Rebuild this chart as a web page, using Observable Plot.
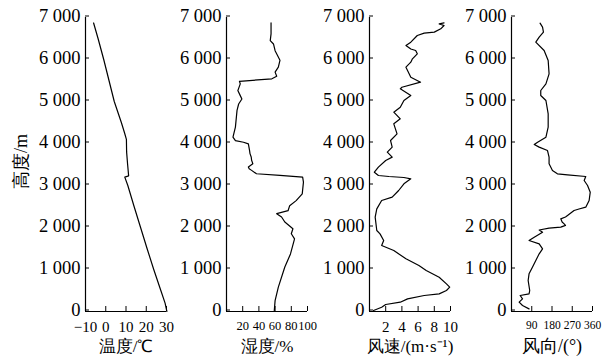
<!DOCTYPE html>
<html>
<head>
<meta charset="utf-8">
<script src="https://cdn.jsdelivr.net/npm/d3@7"></script>
<script src="https://cdn.jsdelivr.net/npm/@observablehq/plot@0.6"></script>
<style>
  html, body { margin: 0; padding: 0; background: #fff; }
  #chart { position: relative; width: 612px; height: 358px; overflow: hidden; }
  #chart svg { position: absolute; top: 0; overflow: visible; }
  #chart svg, #chart svg text { font-family: "Liberation Serif", "Times New Roman", serif !important; }
</style>
</head>
<body>
<div id="chart"></div>
<script>
// ---- Data (altitude in m) ----
const altTicks = [0, 1000, 2000, 3000, 4000, 5000, 6000, 7000];

const tempAltitude = [0, 200, 500, 1000, 1500, 2000, 2500, 3000, 3200, 3230, 3500, 3800, 4100, 4250, 4500, 5000, 5500, 6000, 6500, 6870];
const temperature  = [30.2, 29.3, 27.2, 23.7, 20.4, 17.2, 14.0, 10.9, 9.4, 11.3, 10.8, 10.3, 10.2, 9.3, 7.7, 4.2, 1.6, -1.0, -3.8, -6.0];
const tempTicks = [-10, 0, 10, 20, 30];

const humAltitude = [20, 260, 580, 1060, 1370, 1730, 1850, 1970, 2130, 2250, 2330, 2400, 2520, 2640, 2800, 3080, 3200, 3240, 3280, 3360, 3400, 3440, 3520, 3600, 3680, 3760, 3830, 3990, 4030, 4070, 4150, 4390, 4790, 4940, 5060, 5140, 5260, 5420, 5480, 5540, 5600, 5700, 5820, 5980, 6210, 6370, 6450, 6610, 6870];
const humidity    = [59, 60, 64, 72, 79, 84, 80, 82, 72, 68, 62, 76, 78, 86, 93.5, 95, 94, 66, 37, 31, 28, 27, 32.5, 31, 30.5, 29, 28.5, 27, 21, 11, 8, 11, 13, 15, 19, 17, 14, 17, 16, 56, 62, 60, 64, 66, 60, 58, 54, 55, 55];
const humTicks = [20, 40, 60, 80, 100];

const wsAltitude = [24, 100, 167, 222, 300, 381, 420, 500, 580, 659, 817, 976, 1095, 1254, 1452, 1571, 1690, 1849, 1929, 2246, 2444, 2643, 2722, 2881, 3040, 3159, 3190, 3214, 3238, 3317, 3437, 3595, 3675, 3794, 3913, 4071, 4230, 4349, 4468, 4587, 4746, 4865, 5024, 5143, 5302, 5340, 5460, 5579, 5817, 5937, 6016, 6135, 6214, 6250, 6333, 6413, 6571, 6627, 6651, 6730, 6810, 6849, 6870];
const windSpeed  = [0.5, 1.5, 2.0, 3.8, 4.7, 6.75, 8.6, 9.5, 9.9, 9.5, 8.6, 7.0, 6.1, 4.5, 3.0, 1.5, 1.75, 1.3, 0.9, 0.7, 0.9, 1.5, 2.8, 3.6, 4.25, 5.1, 4.25, 2.4, 1.1, 0.6, 1.1, 2.0, 2.8, 2.2, 2.8, 2.6, 3.4, 3.2, 3.0, 3.8, 3.0, 3.8, 4.25, 5.1, 3.8, 4.0, 6.3, 5.1, 4.5, 5.1, 5.3, 5.9, 5.7, 5.1, 4.5, 5.1, 5.9, 6.75, 8.0, 8.8, 9.2, 8.6, 9.2];
const wsTicks = [2, 4, 6, 8, 10];

const wdAltitude = [63, 143, 222, 300, 381, 420, 500, 738, 897, 1056, 1214, 1373, 1492, 1611, 1690, 1770, 1889, 1940, 1984, 2008, 2050, 2087, 2130, 2206, 2250, 2286, 2340, 2405, 2440, 2484, 2643, 2841, 3000, 3119, 3214, 3254, 3278, 3357, 3516, 3675, 3833, 3913, 3976, 4032, 4151, 4389, 4706, 5024, 5143, 5262, 5420, 5659, 5976, 6214, 6413, 6532, 6651, 6770, 6865];
const windDir    = [78, 49, 34, 49, 38.5, 78, 81, 74, 78, 93, 108, 123, 138, 123, 78, 101, 138, 123, 167, 219, 240, 234, 225, 219, 240, 249, 262, 278, 300, 330, 345, 350, 338, 323, 330, 249, 204, 182, 167, 167, 160, 123, 101, 116, 153, 163, 163, 153, 130, 130, 153, 167, 163, 145, 108, 123, 142, 138, 127];
const wdTicks = [90, 180, 270, 360];

// ---- Formatting ----
const locale = d3.formatLocale({decimal: ".", thousands: " ", grouping: [3], currency: ["", ""], minus: "\u2212"});
const altFormat = locale.format(",");
const numFormat = locale.format("d");

function panel({alts, vals, domain, ticks, tickFont, title, titleFont, left, yTitle}) {
  const data = alts.map((a, i) => ({alt: a, v: vals[i]}));
  const marks = [
    Plot.ruleX([domain[0]], {stroke: "black", strokeWidth: 1.2}),
    Plot.ruleY([0], {stroke: "black", strokeWidth: 1.2}),
    Plot.axisY({ticks: altTicks, tickFormat: altFormat, tickSize: -4, tickPadding: 9, fontSize: 18.5, dy: -1.5, label: null}),
    Plot.axisX({ticks, tickFormat: numFormat, tickSize: -5, tickPadding: 14.5, fontSize: tickFont, label: null}),
    Plot.line(data, {x: "v", y: "alt", stroke: "black", strokeWidth: 1.2}),
    Plot.text([title], {frameAnchor: "bottom", dy: 40.5, fontSize: titleFont})
  ];
  if (yTitle) {
    marks.push(Plot.text([yTitle], {frameAnchor: "left", textAnchor: "middle", rotate: -90, dx: -64, dy: -3, fontSize: 18}));
  }
  const svg = Plot.plot({
    width: 170,
    height: 358,
    marginLeft: 85,
    marginRight: 4,
    marginTop: 17,
    marginBottom: 47,
    style: {color: "black", background: "transparent"},
    x: {domain},
    y: {domain: [0, 7000]},
    marks
  });
  svg.style.left = left + "px";
  return svg;
}

const chart = document.getElementById("chart");
chart.append(
  panel({alts: tempAltitude, vals: temperature, domain: [-10, 30], ticks: tempTicks, tickFont: 15, title: "温度/℃", titleFont: 17, left: 0, yTitle: "高度/m"}),
  panel({alts: humAltitude, vals: humidity, domain: [0, 100], ticks: humTicks, tickFont: 12.5, title: "湿度/%", titleFont: 17, left: 141}),
  panel({alts: wsAltitude, vals: windSpeed, domain: [0, 10], ticks: wsTicks, tickFont: 15, title: "风速/(m·s⁻¹)", titleFont: 17, left: 284}),
  panel({alts: wdAltitude, vals: windDir, domain: [0, 360], ticks: wdTicks, tickFont: 11.5, title: "风向/(°)", titleFont: 18, left: 426})
);
</script>
</body>
</html>
